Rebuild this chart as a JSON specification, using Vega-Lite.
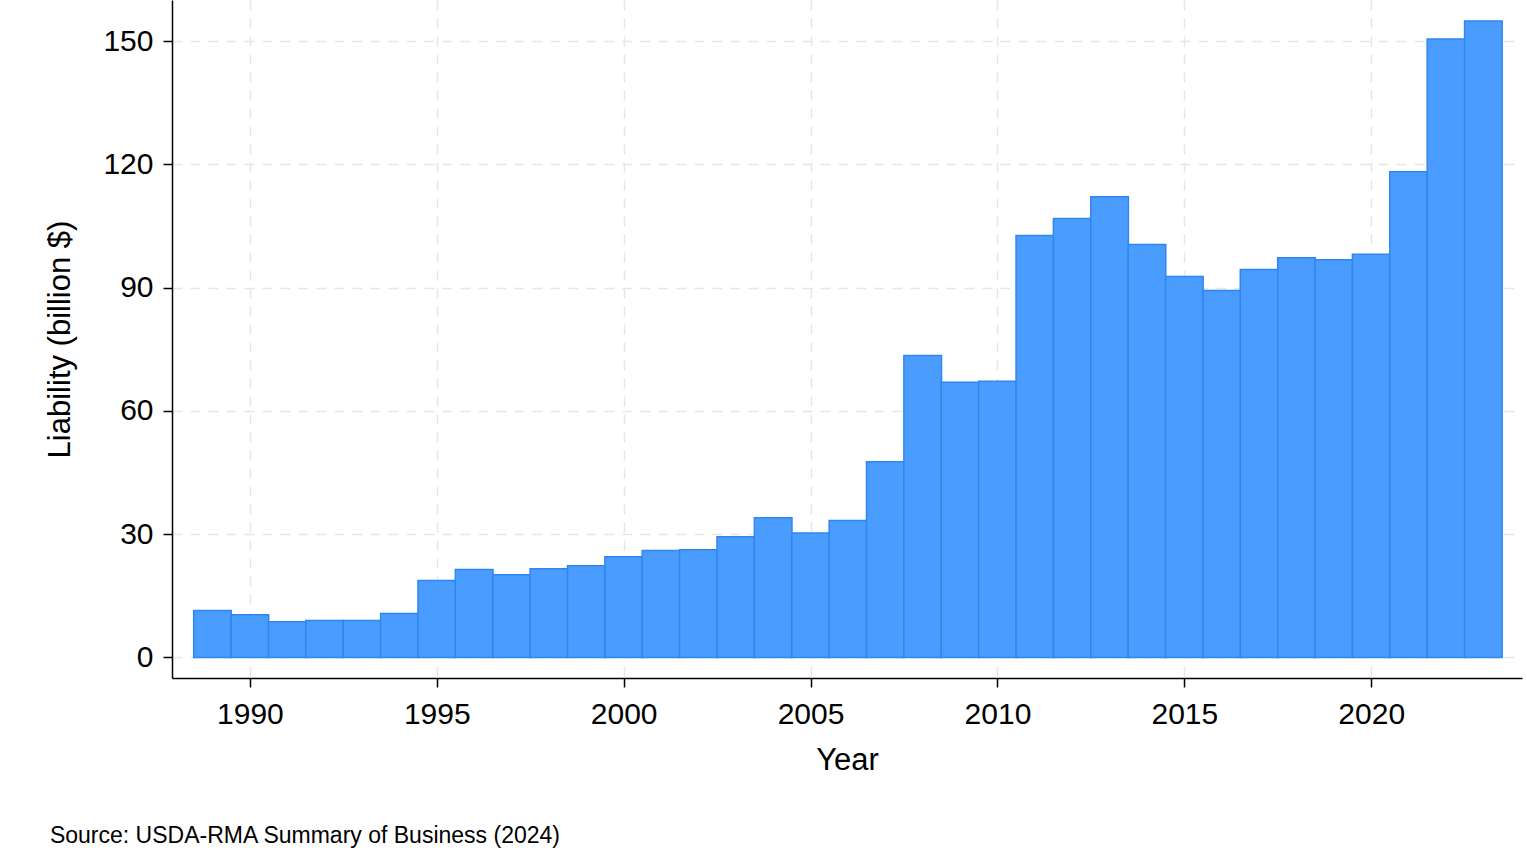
{
"$schema":"https://vega.github.io/schema/vega-lite/v6.json",
"autosize":{"type":"none"},
"width":1350,"height":678,
"padding":{"left":172,"top":0,"right":5,"bottom":180},
"background":"white",
"config":{"view":{"stroke":null},"font":"Liberation Sans"},
"title":{"text":"Source: USDA-RMA Summary of Business (2024)","orient":"bottom","anchor":"start","offset":50,"fontSize":23,"fontWeight":"normal","color":"black","font":"Liberation Sans","dx":5},
"data":{"values":[
{"year":1989,"v":11.4},{"year":1990,"v":10.4},{"year":1991,"v":8.7},{"year":1992,"v":9.0},{"year":1993,"v":9.0},
{"year":1994,"v":10.7},{"year":1995,"v":18.7},{"year":1996,"v":21.4},{"year":1997,"v":20.1},{"year":1998,"v":21.6},
{"year":1999,"v":22.3},{"year":2000,"v":24.5},{"year":2001,"v":26.0},{"year":2002,"v":26.2},{"year":2003,"v":29.4},
{"year":2004,"v":34.0},{"year":2005,"v":30.3},{"year":2006,"v":33.3},{"year":2007,"v":47.6},{"year":2008,"v":73.5},
{"year":2009,"v":67.0},{"year":2010,"v":67.2},{"year":2011,"v":102.7},{"year":2012,"v":106.8},{"year":2013,"v":112.1},
{"year":2014,"v":100.5},{"year":2015,"v":92.7},{"year":2016,"v":89.3},{"year":2017,"v":94.4},{"year":2018,"v":97.3},
{"year":2019,"v":96.8},{"year":2020,"v":98.1},{"year":2021,"v":118.2},{"year":2022,"v":150.5},{"year":2023,"v":154.9}
]},
"mark":{"type":"bar","size":37.6,"color":"#4a9dff","stroke":"#2f86f0","strokeWidth":1.5},
"encoding":{
"x":{"field":"year","type":"quantitative","scale":{"domain":[1988.05,2023.9],"nice":false,"zero":false},
"axis":{"values":[1990,1995,2000,2005,2010,2015,2020],"format":"d","title":"Year","titleFontSize":31,"titleFontWeight":"normal","titleColor":"black","titlePadding":16,
"labelFontSize":30,"labelColor":"black","labelPadding":12,"tickColor":"black","tickSize":9,"tickWidth":1.5,"domainColor":"black","domainWidth":1.5,
"grid":true,"gridColor":"#e6e6e6","gridDash":[10,8],"gridWidth":1.5}},
"y":{"field":"v","type":"quantitative","scale":{"domain":[-5,160],"nice":false,"zero":false},
"axis":{"values":[0,30,60,90,120,150],"title":"Liability (billion $)","titleFontSize":31,"titleFontWeight":"normal","titleColor":"black","titlePadding":26,
"labelFontSize":30,"labelColor":"black","labelPadding":10,"tickColor":"black","tickSize":9,"tickWidth":1.5,"domainColor":"black","domainWidth":1.5,
"grid":true,"gridColor":"#e6e6e6","gridDash":[10,8],"gridWidth":1.5}},
"y2":{"datum":0}
}
}
